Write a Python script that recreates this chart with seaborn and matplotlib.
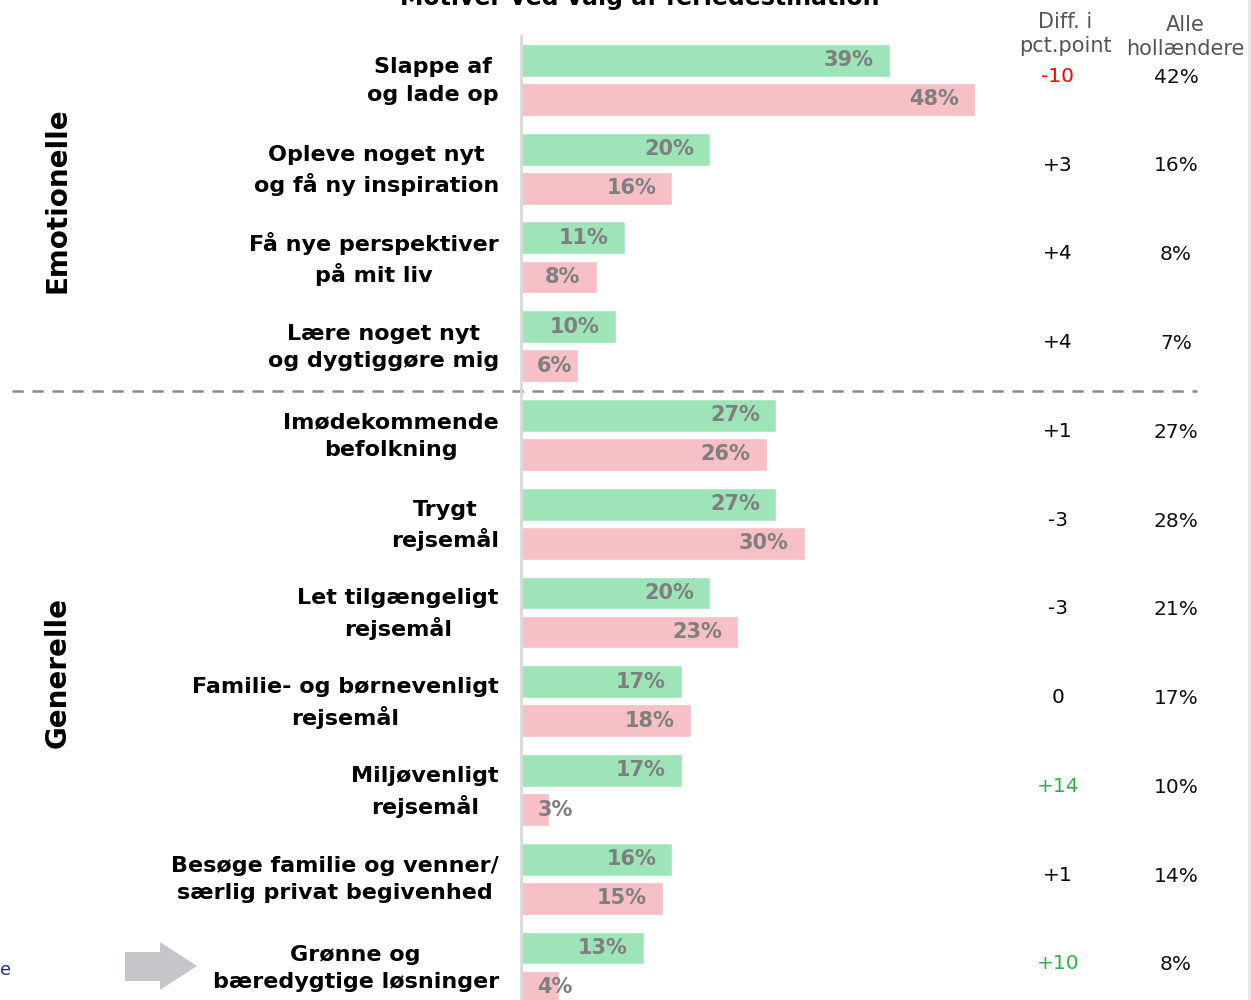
import pandas as pd
import matplotlib.pyplot as plt
import matplotlib.transforms as mtransforms
from matplotlib.patches import Polygon, Rectangle
import seaborn as sns

categories = [
    "Slappe af\nog lade op",
    "Opleve noget nyt\nog få ny inspiration",
    "Få nye perspektiver\npå mit liv",
    "Lære noget nyt\nog dygtiggøre mig",
    "Imødekommende\nbefolkning",
    "Trygt\nrejsemål",
    "Let tilgængeligt\nrejsemål",
    "Familie- og børnevenligt\nrejsemål",
    "Miljøvenligt\nrejsemål",
    "Besøge familie og venner/\nsærlig privat begivenhed",
    "Grønne og\nbæredygtige løsninger",
]
green_vals = [39, 20, 11, 10, 27, 27, 20, 17, 17, 16, 13]
pink_vals = [48, 16, 8, 6, 26, 30, 23, 18, 3, 15, 4]
diff_labels = ["-10", "+3", "+4", "+4", "+1", "-3", "-3", "0", "+14", "+1", "+10"]
alle_labels = ["42%", "16%", "8%", "7%", "27%", "28%", "21%", "17%", "10%", "14%", "8%"]
series = ["A", "B"]

sns.set_style("white")
plt.rcParams["font.family"] = ["DejaVu Sans"]
plt.rcParams["text.color"] = "black"
plt.rcParams["ytick.color"] = "black"

df = pd.DataFrame({
    "cat": categories * 2,
    "serie": [series[0]] * len(categories) + [series[1]] * len(categories),
    "val": green_vals + pink_vals,
})

W, H = 1251, 1000
fig = plt.figure(figsize=(W / 100, H / 100), dpi=100)
ax = fig.add_axes([521 / W, 1 - 1011.9 / H, 567 / W, 976.4 / H])

sns.barplot(data=df, y="cat", x="val", hue="serie", order=categories,
            hue_order=series, palette=["#9de5b9", "#f6c0c6"], orient="h",
            width=0.88, gap=0.16, legend=False, ax=ax, saturation=1)

ax.set_xlim(0, 60)
ax.set_ylim(10.5, -0.5)
ax.set_xlabel("")
ax.set_ylabel("")
ax.set_xticks([])
ax.set_yticks(range(len(categories)))
ax.set_yticklabels(categories, fontsize=16, fontweight="bold", multialignment="center",
                   linespacing=1.45, color="black")
ax.tick_params(axis="y", length=0, pad=16)
shift = mtransforms.ScaledTranslation(0, 0.045, fig.dpi_scale_trans)
for lbl in ax.get_yticklabels():
    lbl.set_transform(lbl.get_transform() + shift)
for s in ["top", "right", "bottom"]:
    ax.spines[s].set_visible(False)
ax.spines["left"].set_color("#d9d9d9")
ax.spines["left"].set_linewidth(2)
ax.spines["left"].set_zorder(5)

# bar value labels
for i, (g, p) in enumerate(zip(green_vals, pink_vals)):
    for v, dy in [(g, -0.22), (p, 0.22)]:
        if v < 7:
            ax.text(1.7, i + dy, f"{v}%", ha="left", va="center", fontsize=15,
                    fontweight="bold", color="#7f7f7f", zorder=6)
        else:
            ax.text(v - 1.7, i + dy, f"{v}%", ha="right", va="center", fontsize=15,
                    fontweight="bold", color="#7f7f7f", zorder=6)

blend = mtransforms.blended_transform_factory(fig.transFigure, ax.transData)
for i, (d, a) in enumerate(zip(diff_labels, alle_labels)):
    col = "black"
    if d.startswith("-") and int(d) <= -10:
        col = "#ff0000"
    elif d.startswith("+") and int(d) >= 10:
        col = "#2bb04a"
    ax.text(1058 / W, i - 0.04, d, transform=blend, ha="center", va="center",
            fontsize=14.5, color=col, clip_on=False)
    ax.text(1176 / W, i - 0.03, a, transform=blend, ha="center", va="center",
            fontsize=14.5, color="#111111", clip_on=False)

# separator between groups
ax.plot([12 / W, 1197 / W], [3.5, 3.5], transform=blend, color="#8a8a8a",
        lw=1.8, ls=(0, (4.5, 3.5)), clip_on=False)

# headers and title
fig.text(1065 / W, 1 - 34 / H, "Diff. i\npct.point", ha="center", va="center",
         fontsize=15, color="#555555", linespacing=1.3)
fig.text(1185 / W, 1 - 37 / H, "Alle\nhollændere", ha="center", va="center",
         fontsize=15, color="#555555", linespacing=1.3)
fig.text(640 / W, 1 - 5 / H, "Motiver ved valg af feriedestination", ha="center",
         va="baseline", fontsize=17, fontweight="bold")

# group labels
fig.text(58 / W, 1 - 200 / H, "Emotionelle", rotation=90, ha="center", va="center",
         fontsize=20, fontweight="bold")
fig.text(58 / W, 1 - 673 / H, "Generelle", rotation=90, ha="center", va="center",
         fontsize=20, fontweight="bold")

# arrow
pts = [(125, 952), (160, 952), (160, 942), (197, 966), (160, 990), (160, 981), (125, 981)]
fig.patches.append(Polygon([(x / W, 1 - y / H) for x, y in pts], closed=True,
                           transform=fig.transFigure, facecolor="#c5c6c9", edgecolor="none"))
fig.text(0, 1 - 970 / H, "e", ha="left", va="center", fontsize=13, color="#1f3864")

# right edge strip
fig.patches.append(Rectangle((1247.5 / W, 0), 3.5 / W, 1, transform=fig.transFigure,
                             facecolor="#e6e7e9", edgecolor="none"))

fig.savefig("out.png", dpi=100)
